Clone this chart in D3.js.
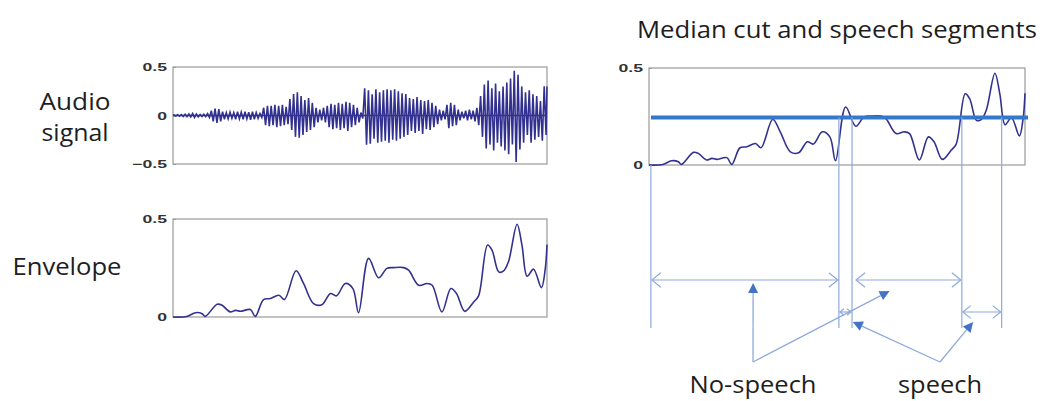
<!DOCTYPE html>
<html>
<head>
<meta charset="utf-8">
<script src="https://cdn.jsdelivr.net/npm/d3@7"></script>
<style>
  body { margin: 0; background: #fff; }
  svg { display: block; }
  .lbl { font-family: "Open Sans", "Noto Sans", sans-serif; fill: #1e1e1e; }
  .tick text { font-family: "Liberation Sans", Arial, sans-serif; font-weight: bold; font-size: 11px; fill: #333; }
</style>
</head>
<body>
<div id="viz_div"></div>
<script>
// DATA
// ---------------------------------------------------------------------------------------------------------------------------------
// envelope: time position (0..1 of the window) and amplitude
const envTime = [0, 0.037, 0.060, 0.078, 0.086, 0.118, 0.131, 0.153, 0.167, 0.180, 0.207, 0.220, 0.242, 0.260, 0.283, 0.298,
  0.329, 0.349, 0.376, 0.398, 0.421, 0.437, 0.461, 0.481, 0.496, 0.523, 0.550, 0.572, 0.590, 0.617, 0.630, 0.657, 0.679, 0.693,
  0.719, 0.743, 0.758, 0.780, 0.804, 0.817, 0.841, 0.853, 0.871, 0.884, 0.897, 0.920, 0.933, 0.947, 0.964, 0.985, 0.995, 1.0];
const envValue = [0, 0.003, 0.022, 0.017, 0.003, 0.065, 0.060, 0.026, 0.034, 0.029, 0.038, 0.003, 0.089, 0.094, 0.111, 0.089,
  0.236, 0.171, 0.068, 0.063, 0.120, 0.108, 0.171, 0.145, 0.022, 0.299, 0.200, 0.248, 0.252, 0.252, 0.239, 0.162, 0.171, 0.162,
  0.026, 0.145, 0.120, 0.029, 0.077, 0.108, 0.367, 0.341, 0.230, 0.235, 0.282, 0.473, 0.367, 0.208, 0.244, 0.150, 0.240, 0.370];

// audio signal: positive and negative peak of each oscillation cycle
const audioTops = [0.005, 0.008, 0.01, 0.012, 0.015, 0.02, 0.015, 0.01, 0.012, 0.02,
  0.05, 0.07, 0.065, 0.04,
  0.03, 0.035, 0.03, 0.04, 0.035, 0.04, 0.035, 0.04, 0.03,
  0.02,
  0.08, 0.1, 0.1, 0.11, 0.1, 0.11, 0.09,
  0.17, 0.22, 0.24, 0.2, 0.16, 0.18, 0.13,
  0.08, 0.06,
  0.08, 0.1, 0.12, 0.11, 0.13, 0.12, 0.14, 0.13, 0.11, 0.08, 0.03,
  0.28, 0.26, 0.22, 0.27, 0.24, 0.26, 0.27, 0.26, 0.27, 0.25, 0.23, 0.22, 0.18,
  0.17, 0.19, 0.16, 0.15, 0.16, 0.13, 0.1, 0.06,
  0.05, 0.11, 0.13, 0.11, 0.06,
  0.04, 0.05, 0.06, 0.05, 0.08,
  0.2, 0.32, 0.36, 0.28, 0.33, 0.25, 0.3, 0.34,
  0.38, 0.46, 0.42, 0.3,
  0.24, 0.26, 0.22, 0.2, 0.15, 0.3];
const audioBottoms = [0.005, 0.008, 0.01, 0.012, 0.015, 0.02, 0.015, 0.01, 0.012, 0.02,
  0.06, 0.075, 0.06, 0.04,
  0.035, 0.03, 0.04, 0.035, 0.04, 0.035, 0.045, 0.04, 0.03,
  0.02,
  0.1, 0.11, 0.1, 0.12, 0.11, 0.1, 0.09,
  0.15, 0.22, 0.23, 0.2, 0.17, 0.15, 0.12,
  0.07, 0.05,
  0.07, 0.12, 0.14, 0.13, 0.15, 0.13, 0.16, 0.12, 0.1, 0.07, 0.03,
  0.3, 0.29, 0.24, 0.28, 0.27, 0.26, 0.28, 0.25, 0.26, 0.24, 0.22, 0.2, 0.16,
  0.18, 0.16, 0.19, 0.14, 0.15, 0.12, 0.09, 0.05,
  0.04, 0.13, 0.11, 0.1, 0.05,
  0.03, 0.05, 0.04, 0.06, 0.1,
  0.22, 0.34, 0.3, 0.36, 0.28, 0.32, 0.36, 0.4,
  0.3, 0.48, 0.35, 0.28,
  0.2, 0.28, 0.25, 0.22, 0.26, 0.2];

const medianCut = 0.245;
// segment limits (time 0..1) found where the envelope crosses the median
const cutTimes = [0.005, 0.505, 0.540, 0.832, 0.938];
const noSpeechSegs = [[0.005, 0.505], [0.548, 0.832]];
const speechSegs = [[0.505, 0.540], [0.832, 0.938]];
const noSpeechTargets = [0.277, 0.64];
const speechTargets = [0.542, 0.862];

const audioTicks = [-0.5, 0, 0.5];
const envTicks = [0, 0.5];

// SVG
// ---------------------------------------------------------------------------------------------------------------------------------
const width = 1045, height = 401;
const svg = d3.select("#viz_div").append("svg")
  .attr("width", width)
  .attr("height", height);

const signalColor = "#33318f";
const frameColor = "#9a9a9a";
const lineBlue = "#8eaadb";
const headBlue = "#4472c4";

const envData = envTime.map((t, i) => ({ t: t, v: envValue[i] }));
const audioData = [{ t: 0, v: 0 }];
audioTops.forEach((a, i) => {
  const n = audioTops.length;
  audioData.push({ t: (i + 0.25) / n, v: a });
  audioData.push({ t: (i + 0.75) / n, v: -audioBottoms[i] });
});
audioData.push({ t: 1, v: 0.3 });

function panel(x0, x1, y0, y1, ydom, ticks) {
  const x = d3.scaleLinear([0, 1], [x0, x1]);
  const y = d3.scaleLinear(ydom, [y1, y0]);
  const g = svg.append("g");
  g.append("rect")
    .attr("x", x0).attr("y", y0)
    .attr("width", x1 - x0).attr("height", y1 - y0)
    .attr("fill", "none").attr("stroke", frameColor).attr("stroke-width", 1.2);
  const ax = g.append("g")
    .attr("transform", `translate(${x0},0)`)
    .call(d3.axisLeft(y).tickValues(ticks).tickSize(-3).tickPadding(6).tickFormat(d3.format("")));
  ax.select(".domain").remove();
  ax.selectAll(".tick line").attr("stroke", frameColor);
  // the picture is stretched sideways: widen the tick labels
  ax.selectAll(".tick text").each(function () {
    const w = this.getComputedTextLength();
    d3.select(this).attr("textLength", w * 1.6).attr("lengthAdjust", "spacingAndGlyphs");
  });
  return { x: x, y: y, g: g };
}

// AUDIO SIGNAL
// ---------------------------------------------------------------------------------------------------------------------------------
const pA = panel(173, 547, 67, 164, [-0.5, 0.5], audioTicks);
pA.g.append("line")
  .attr("x1", pA.x(0)).attr("x2", pA.x(1))
  .attr("y1", pA.y(0)).attr("y2", pA.y(0))
  .attr("stroke", signalColor).attr("stroke-width", 1.3);
pA.g.append("path")
  .datum(audioData)
  .attr("d", d3.line().x(d => pA.x(d.t)).y(d => pA.y(d.v)))
  .attr("fill", "none").attr("stroke", signalColor).attr("stroke-width", 1.6);

// ENVELOPE
// ---------------------------------------------------------------------------------------------------------------------------------
const pE = panel(173, 547, 219, 317, [0, 0.5], envTicks);
const envLine = (p) => d3.line().curve(d3.curveCatmullRom.alpha(0.5)).x(d => p.x(d.t)).y(d => p.y(d.v));
pE.g.append("path")
  .datum(envData)
  .attr("d", envLine(pE))
  .attr("fill", "none").attr("stroke", signalColor).attr("stroke-width", 1.6);

// MEDIAN CUT PANEL
// ---------------------------------------------------------------------------------------------------------------------------------
const pM = panel(649, 1025, 68, 165, [0, 0.5], envTicks);
const annot = svg.append("g");

// vertical cut lines
annot.selectAll("line.cut")
  .data(cutTimes)
  .enter()
  .append("line")
  .attr("x1", d => pM.x(d)).attr("x2", d => pM.x(d))
  .attr("y1", (d, i) => i === 0 ? pM.y(0) : pM.y(medianCut))
  .attr("y2", 328)
  .attr("stroke", lineBlue).attr("stroke-width", 1.2);

pM.g.append("path")
  .datum(envData)
  .attr("d", envLine(pM))
  .attr("fill", "none").attr("stroke", signalColor).attr("stroke-width", 1.6);

pM.g.append("line")
  .attr("x1", pM.x(0) + 2).attr("x2", pM.x(1) + 3)
  .attr("y1", pM.y(medianCut)).attr("y2", pM.y(medianCut))
  .attr("stroke", "#3478cc").attr("stroke-width", 4);

// double arrows with open heads
function doubleArrow(a, b, y, head) {
  const x1 = pM.x(a) + 1, x2 = pM.x(b) - 1;
  annot.append("line").attr("x1", x1).attr("x2", x2).attr("y1", y).attr("y2", y)
    .attr("stroke", lineBlue).attr("stroke-width", 1.2);
  annot.append("path")
    .attr("d", `M${x1 + head},${y - head * 0.8}L${x1},${y}L${x1 + head},${y + head * 0.8}` +
      `M${x2 - head},${y - head * 0.8}L${x2},${y}L${x2 - head},${y + head * 0.8}`)
    .attr("fill", "none").attr("stroke", lineBlue).attr("stroke-width", 1.2);
}
noSpeechSegs.forEach(s => doubleArrow(s[0], s[1], 280, 9));
doubleArrow(speechSegs[0][0], speechSegs[0][1], 312, 4);
doubleArrow(speechSegs[1][0], speechSegs[1][1], 312, 8);

// pointer arrows with solid heads
function pointer(x0, y0, x1, y1) {
  const ang = Math.atan2(y1 - y0, x1 - x0);
  const L = 10, w = 5;
  const bx = x1 - L * Math.cos(ang), by = y1 - L * Math.sin(ang);
  annot.append("line").attr("x1", x0).attr("y1", y0).attr("x2", bx).attr("y2", by)
    .attr("stroke", lineBlue).attr("stroke-width", 1.3);
  annot.append("path")
    .attr("d", `M${x1},${y1}L${bx - w * Math.sin(ang)},${by + w * Math.cos(ang)}L${bx + w * Math.sin(ang)},${by - w * Math.cos(ang)}Z`)
    .attr("fill", headBlue);
}
const nsOrigin = [753, 362];
const spOrigin = [940, 362];
pointer(nsOrigin[0], nsOrigin[1], pM.x(noSpeechTargets[0]), 283);
pointer(nsOrigin[0], nsOrigin[1], pM.x(noSpeechTargets[1]), 291);
pointer(spOrigin[0], spOrigin[1], pM.x(speechTargets[0]), 322);
pointer(spOrigin[0], spOrigin[1], pM.x(speechTargets[1]), 322);

// TEXT (widths stretched to match the sideways-stretched picture)
// ---------------------------------------------------------------------------------------------------------------------------------
function label(x, y, len, txt) {
  svg.append("text").attr("class", "lbl").attr("text-anchor", "middle")
    .attr("x", x).attr("y", y).style("font-size", "23px")
    .attr("textLength", len).attr("lengthAdjust", "spacingAndGlyphs")
    .text(txt);
}
label(837, 38, 400, "Median cut and speech segments");
label(75, 110, 71, "Audio");
label(75, 141, 67, "signal");
label(67, 275, 109, "Envelope");
label(753, 393, 127, "No-speech");
label(940, 393, 84, "speech");
</script>
</body>
</html>
